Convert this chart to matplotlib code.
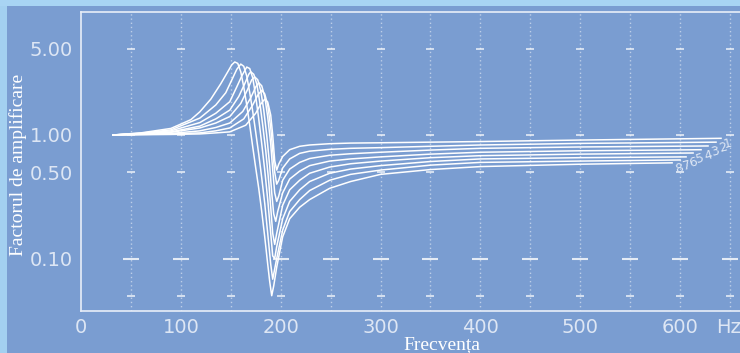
import matplotlib
matplotlib.use("Agg")
import matplotlib.pyplot as plt
import matplotlib.transforms as mtransforms
from matplotlib.patches import Rectangle

# ---------------- data ----------------
curve_labels = ["1", "2", "3", "4", "5", "6", "7", "8"]

f1 = [32, 60, 90, 119, 135, 149, 165, 175, 180, 184, 187, 190, 192, 194, 196, 198, 202, 209, 219, 229, 249, 270, 300, 350, 400, 500, 641]
a1 = [1.0, 1.005, 1.01, 1.02, 1.04, 1.06, 1.2, 1.5, 1.78, 1.95, 1.85, 1.45, 1.0, 0.62, 0.52, 0.58, 0.67, 0.76, 0.81, 0.83, 0.85, 0.86, 0.865, 0.875, 0.885, 0.91, 0.94]

f2 = [32, 60, 90, 119, 135, 149, 163, 172, 177, 181, 184, 187, 190, 192, 194, 196, 198, 202, 209, 219, 229, 249, 270, 300, 350, 400, 500, 636]
a2 = [1.0, 1.01, 1.02, 1.04, 1.08, 1.14, 1.35, 1.75, 2.1, 2.3, 2.15, 1.75, 1.15, 0.75, 0.5, 0.4, 0.43, 0.54, 0.64, 0.71, 0.74, 0.765, 0.78, 0.79, 0.81, 0.83, 0.855, 0.875]

f3 = [32, 60, 90, 119, 135, 149, 162, 170, 175, 178, 181, 184, 187, 190, 192, 194, 196, 198, 202, 209, 219, 229, 249, 270, 300, 350, 400, 500, 628]
a3 = [1.0, 1.015, 1.03, 1.08, 1.15, 1.25, 1.55, 2.0, 2.45, 2.65, 2.5, 2.05, 1.4, 0.85, 0.52, 0.34, 0.29, 0.32, 0.43, 0.53, 0.60, 0.645, 0.685, 0.705, 0.725, 0.755, 0.78, 0.80, 0.815]

f4 = [32, 60, 90, 119, 135, 149, 160, 167, 171, 174, 177, 180, 183, 186, 189, 191, 193, 195, 197, 202, 209, 219, 229, 249, 270, 300, 350, 400, 500, 621]
a4 = [1.0, 1.02, 1.05, 1.14, 1.25, 1.41, 1.8, 2.35, 2.8, 2.95, 2.8, 2.3, 1.6, 1.0, 0.56, 0.34, 0.23, 0.2, 0.24, 0.34, 0.44, 0.51, 0.565, 0.615, 0.64, 0.665, 0.70, 0.725, 0.745, 0.76]

f5 = [32, 60, 90, 119, 135, 149, 158, 164, 168, 170, 173, 176, 179, 182, 185, 188, 190, 192, 194, 196, 202, 209, 219, 229, 249, 270, 300, 350, 400, 500, 613]
a5 = [1.0, 1.025, 1.06, 1.18, 1.35, 1.59, 2.05, 2.6, 3.1, 3.25, 3.1, 2.6, 1.85, 1.2, 0.75, 0.42, 0.26, 0.16, 0.13, 0.16, 0.27, 0.36, 0.43, 0.49, 0.55, 0.585, 0.615, 0.655, 0.68, 0.70, 0.715]

f6 = [32, 60, 90, 119, 135, 149, 156, 161, 166, 169, 172, 175, 178, 181, 184, 187, 190, 192, 194, 196, 202, 209, 219, 229, 249, 270, 300, 350, 400, 500, 606]
a6 = [1.0, 1.03, 1.08, 1.26, 1.5, 1.86, 2.45, 3.0, 3.55, 3.45, 2.9, 2.05, 1.35, 0.85, 0.52, 0.3, 0.16, 0.105, 0.1, 0.125, 0.21, 0.29, 0.36, 0.42, 0.49, 0.53, 0.565, 0.61, 0.64, 0.655, 0.665]

f7 = [32, 60, 90, 119, 135, 145, 152, 156, 160, 163, 166, 169, 172, 175, 178, 181, 184, 187, 190, 192, 196, 202, 209, 219, 229, 249, 270, 300, 350, 400, 500, 600]
a7 = [1.0, 1.035, 1.1, 1.37, 1.75, 2.2, 2.9, 3.4, 3.75, 3.6, 3.0, 2.2, 1.55, 1.05, 0.7, 0.45, 0.28, 0.16, 0.09, 0.068, 0.1, 0.17, 0.24, 0.3, 0.355, 0.43, 0.48, 0.52, 0.57, 0.60, 0.615, 0.628]

f8 = [32, 60, 90, 110, 119, 130, 140, 147, 151, 154, 157, 160, 163, 166, 169, 172, 175, 178, 181, 184, 187, 189, 191, 193, 196, 202, 209, 219, 229, 249, 270, 300, 350, 400, 500, 592]
a8 = [1.0, 1.04, 1.13, 1.33, 1.54, 1.95, 2.6, 3.25, 3.7, 3.9, 3.8, 3.25, 2.45, 1.75, 1.2, 0.8, 0.54, 0.37, 0.24, 0.15, 0.09, 0.065, 0.05, 0.06, 0.085, 0.15, 0.21, 0.26, 0.30, 0.37, 0.42, 0.48, 0.525, 0.555, 0.58, 0.595]

x_ticks = [0, 100, 200, 300, 400, 500, 600]
x_ticklabels = ["0", "100", "200", "300", "400", "500", "600"]
y_ticks = [5.0, 1.0, 0.5, 0.1]
y_ticklabels = ["5.00", "1.00", "0.50", "0.10"]
grid_x = [50, 100, 150, 200, 250, 300, 350, 400, 450, 500, 550, 600, 650]
mark_levels = [5.0, 1.0, 0.5, 0.05]
wide_mark_level = [0.1]

freqs = [f1, f2, f3, f4, f5, f6, f7, f8]
amps = [a1, a2, a3, a4, a5, a6, a7, a8]

# ---------------- style ----------------
BG = "#7a9dd1"
TXT = "#dde6f4"
W = 740
H = 353

fig = plt.figure(figsize=(W / 100, H / 100), dpi=100, facecolor=BG)
fig.patches.append(Rectangle((0, 0), 7 / W, 1, transform=fig.transFigure,
                             facecolor="#a3d0f0", edgecolor="none", zorder=0))
fig.patches.append(Rectangle((0, 1 - 6 / H), 1, 6 / H, transform=fig.transFigure,
                             facecolor="#a8d4f3", edgecolor="none", zorder=0))

ax = fig.add_axes([81 / W, 42 / H, 1 - 81 / W, (311 - 12) / H])
ax.set_facecolor(BG)
ax.set_yscale("log")
ax.set_xlim(0, 660)
ax.set_ylim(0.0376, 9.9)

for s in ["left", "bottom", "top"]:
    ax.spines[s].set_color("#e8eef8")
    ax.spines[s].set_linewidth(1.2)
ax.spines["right"].set_visible(False)

# dotted vertical grid
for gx in grid_x:
    ax.axvline(gx, color="white", alpha=0.5, lw=1.0, ls=(0, (1, 2)), zorder=1)
# tick dashes on grid
for lv in mark_levels:
    ax.plot(grid_x, [lv] * len(grid_x), ls="none", marker="_", ms=6, mew=1.2,
            color="white", alpha=0.8, zorder=2)
for lv in wide_mark_level:
    ax.plot(grid_x, [lv] * len(grid_x), ls="none", marker="_", ms=12, mew=1.5,
            color="white", alpha=0.8, zorder=2)

# curves
for lab, fx, ay in zip(curve_labels, freqs, amps):
    ax.plot(fx, ay, color="white", lw=1.1, solid_joinstyle="round", zorder=3)
    ax.annotate(lab, (fx[-1], ay[-1]), xytext=(1, -4), textcoords="offset points",
                ha="left", va="center", fontsize=9, color=TXT, rotation=15,
                annotation_clip=False)

ax.set_xticks(x_ticks)
ax.set_xticklabels(x_ticklabels)
ax.set_yticks(y_ticks)
ax.set_yticklabels(y_ticklabels)
ax.minorticks_off()
ax.tick_params(axis="both", length=0, colors=TXT, labelsize=14)
ax.tick_params(axis="x", pad=5)
ax.tick_params(axis="y", pad=6)

hz_tr = ax.transData + mtransforms.ScaledTranslation(0, -5 / 72, fig.dpi_scale_trans)
ax.text(636, 0.0376, "Hz", transform=hz_tr, ha="left", va="top",
        fontsize=14, color=TXT, clip_on=False)

fig.text(18 / W, 1 - 165 / H, "Factorul de amplificare", rotation=90,
         ha="center", va="center", fontsize=14, color="white",
         family="Liberation Serif")
fig.text(442 / W, 1 - 345 / H, "Frecvența", ha="center", va="center",
         fontsize=14, color="white", family="Liberation Serif")

fig.savefig("out.png", dpi=100, facecolor=BG)
